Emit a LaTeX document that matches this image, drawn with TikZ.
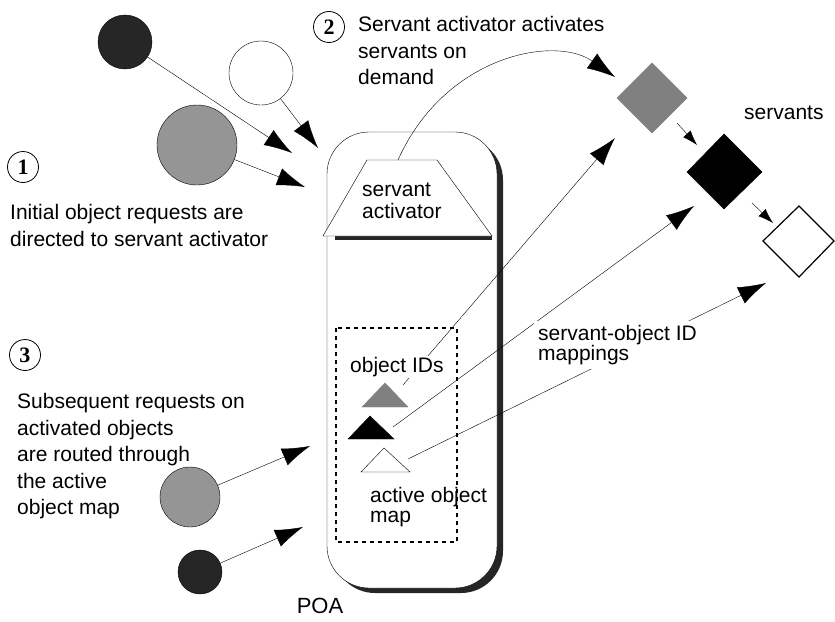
\documentclass[tikz,border=0pt]{standalone}
\usepackage{fontspec}
\setmainfont{Liberation Sans}
\newfontfamily\numfont{Liberation Serif}
\usetikzlibrary{arrows.meta}

\definecolor{darkobj}{HTML}{262626}
\definecolor{grayobj}{HTML}{959595}
\definecolor{grayserv}{HTML}{808080}

\tikzset{
  obj/.style={circle, draw, inner sep=0pt},
  bigarrow/.style={-{Latex[length=28pt,width=18pt]}},
  smallarrow/.style={-{Latex[length=15pt,width=10pt]}},
  stepnum/.style={circle, draw, thick, inner sep=0pt, minimum size=31pt,
    font=\numfont\bfseries\fontsize{22}{22}\selectfont},
  txt/.style={align=left, anchor=north west, inner sep=0pt,
    font=\fontsize{21}{26.5}\selectfont},
  tight/.style={font=\fontsize{21}{20}\selectfont},
}

\begin{document}
\begin{tikzpicture}[x=1pt,y=-1pt]
\useasboundingbox (0,0) rectangle (835,621);

% POA box with shadow
\fill[black!85, rounded corners=42pt] (333,138) rectangle (503,593);
\draw[fill=white, rounded corners=42pt] (327,132) rectangle (497,588);
\node[font=\fontsize{22}{22}\selectfont] (poa) at (320,606) {POA};

% servant activator
\fill[black!85] (335,236) rectangle (492,240);
\draw[fill=white] (323,236) -- (367,160) -- (437,160) -- (492,236) -- cycle;
\node[txt, font=\fontsize{21}{22}\selectfont] (act) at (362,183) {servant\\activator};
\coordinate (acttop) at (398,160);

% active object map
\draw[line width=1.6pt, dash pattern=on 4pt off 4pt] (336,328) rectangle (457,542);
\node[txt, tight] (aom) at (370,487) {active object\\map};
\filldraw[fill=grayserv, draw=grayserv] (362,407) -- (385,383) -- (408,407) -- cycle;
\filldraw[fill=black] (348,439) -- (370,416) -- (394,439) -- cycle;
\draw[fill=white] (361,472) -- (384,448) -- (410,472) -- cycle;
\coordinate (idgray) at (403,385);
\coordinate (idblack) at (393,427);
\coordinate (idwhite) at (408,459);

% servants
\filldraw[fill=grayserv, draw=grayserv] (652,63) -- (687,98) -- (652,133) -- (617,98) -- cycle;
\filldraw[fill=black] (724,134) -- (762,172) -- (724,209) -- (687,172) -- cycle;
\draw[line width=1.2pt, fill=white] (799,206) -- (834,241) -- (799,277) -- (763,241) -- cycle;
\node[txt] (serv) at (744,106) {servants};
\draw[smallarrow] (677,123) -- (697,145);
\draw[smallarrow] (752,203) -- (773,223);

% incoming requests
\node[obj, fill=darkobj, minimum size=54pt] (req1) at (125,42) {};
\node[obj, fill=white, minimum size=64pt] (req2) at (261,73) {};
\node[obj, fill=grayobj, minimum size=80pt] (req3) at (197,145) {};
\node[obj, fill=grayobj, minimum size=60pt] (req4) at (190,497) {};
\node[obj, fill=darkobj, minimum size=44pt] (req5) at (200,572) {};
\coordinate (in1) at (292,153);
\coordinate (in2) at (318,148);
\coordinate (in3) at (305,187);
\coordinate (in4) at (310,446);
\coordinate (in5) at (303,527);
\draw[bigarrow] (req1) -- (in1);
\draw[bigarrow] (req2) -- (in2);
\draw[bigarrow] (req3) -- (in3);
\draw[bigarrow] (req4) -- (in4);
\draw[bigarrow] (req5) -- (in5);

% activation
\coordinate (act1) at (615,77);
\draw[bigarrow] (acttop) .. controls (445,55) and (555,35) .. (act1);

% mappings
\coordinate (map1) at (615,138);
\coordinate (map2) at (694,206);
\coordinate (map3) at (766,283);
\draw[bigarrow] (idgray) -- (map1);
\draw[bigarrow] (idblack) -- (map2);
\draw[bigarrow] (idwhite) -- (map3);
\node[txt, tight, fill=white, inner sep=4pt] (mapl) at (534,321) {servant-object ID\\mappings};
\node[txt, fill=white, inner sep=1pt] (ids) at (349,356) {object IDs};

% steps
\node[stepnum] (s1) at (23,167) {1};
\node[txt] (t1) at (10,204.5) {Initial object requests are\\directed to servant activator};
\node[stepnum] (s2) at (329,27) {2};
\node[txt] (t2) at (358,16.5) {Servant activator activates\\servants on\\demand};
\node[stepnum] (s3) at (25,355) {3};
\node[txt] (t3) at (17,393.5) {Subsequent requests on\\activated objects\\are routed through\\the active\\object map};
\end{tikzpicture}
\end{document}
